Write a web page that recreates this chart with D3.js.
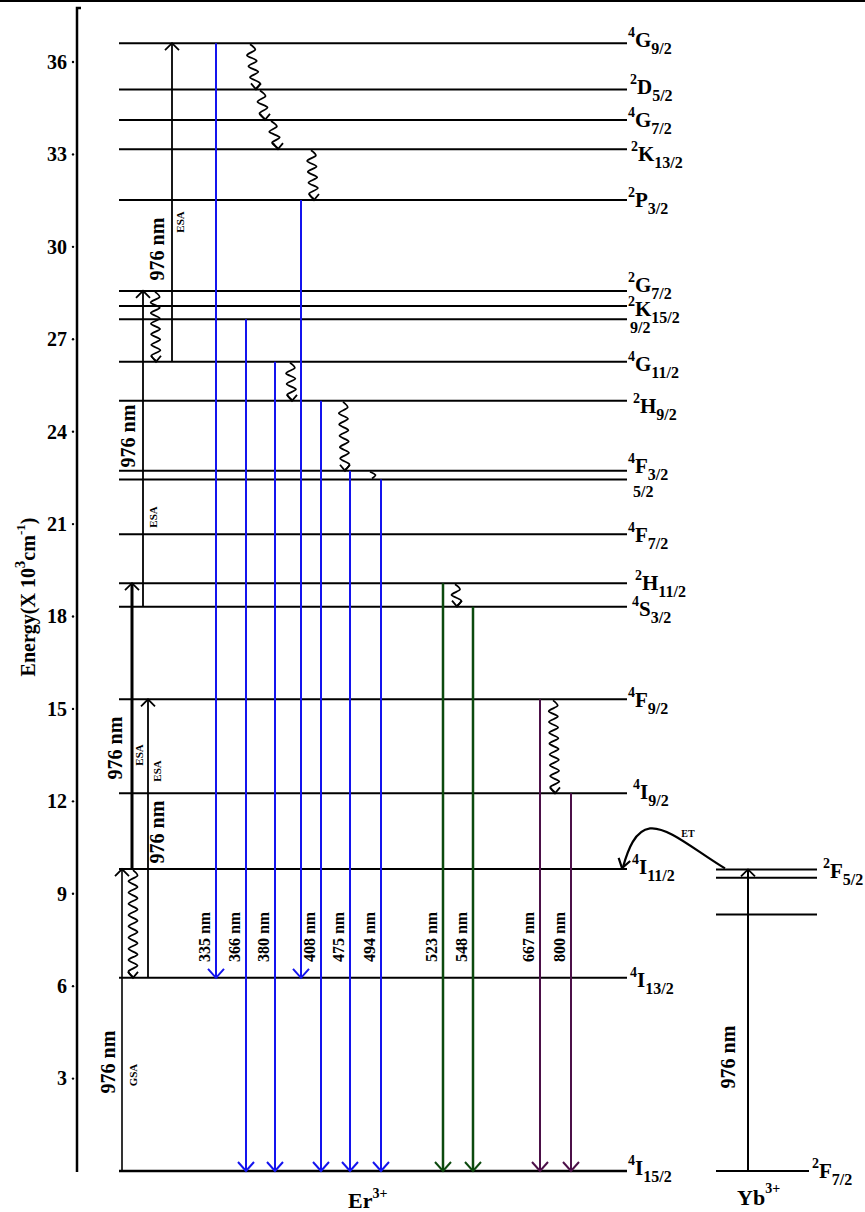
<!DOCTYPE html>
<html>
<head>
<meta charset="utf-8">
<script src="https://cdn.jsdelivr.net/npm/d3@7"></script>
<style>
  body { margin: 0; background: #fff; }
  svg text { font-family: "Liberation Serif", "Times New Roman", serif; }
</style>
</head>
<body>
<div id="chart"></div>
<script>
//////////////////// data ////////////////////////////////////

// energy axis ticks (x 10^3 cm-1)
const tickValues = [3, 6, 9, 12, 15, 18, 21, 24, 27, 30, 33, 36];

// Er3+ levels: term symbol parts + energy (x 10^3 cm-1)
const erLevels = [
  { id: "4G9/2",  sup: "4", term: "G", sub: "9/2",  energy: 36.61 },
  { id: "2D5/2",  sup: "2", term: "D", sub: "5/2",  energy: 35.11 },
  { id: "4G7/2",  sup: "4", term: "G", sub: "7/2",  energy: 34.12 },
  { id: "2K13/2", sup: "2", term: "K", sub: "13/2", energy: 33.17 },
  { id: "2P3/2",  sup: "2", term: "P", sub: "3/2",  energy: 31.52 },
  { id: "2G7/2",  sup: "2", term: "G", sub: "7/2",  energy: 28.57 },
  { id: "2K15/2", sup: "2", term: "K", sub: "15/2", energy: 28.08 },
  { id: "2G9/2",  sup: "",  term: "",  sub: "9/2",  energy: 27.65 },
  { id: "4G11/2", sup: "4", term: "G", sub: "11/2", energy: 26.27 },
  { id: "2H9/2",  sup: "2", term: "H", sub: "9/2",  energy: 25.00 },
  { id: "4F3/2",  sup: "4", term: "F", sub: "3/2",  energy: 22.73 },
  { id: "4F5/2",  sup: "",  term: "",  sub: "5/2",  energy: 22.45 },
  { id: "4F7/2",  sup: "4", term: "F", sub: "7/2",  energy: 20.67 },
  { id: "2H11/2", sup: "2", term: "H", sub: "11/2", energy: 19.08 },
  { id: "4S3/2",  sup: "4", term: "S", sub: "3/2",  energy: 18.32 },
  { id: "4F9/2",  sup: "4", term: "F", sub: "9/2",  energy: 15.31 },
  { id: "4I9/2",  sup: "4", term: "I", sub: "9/2",  energy: 12.26 },
  { id: "4I11/2", sup: "4", term: "I", sub: "11/2", energy: 9.80 },
  { id: "4I13/2", sup: "4", term: "I", sub: "13/2", energy: 6.27 },
  { id: "4I15/2", sup: "4", term: "I", sub: "15/2", energy: 0 }
];

// Yb3+ levels (Stark split 2F5/2)
const ybLevels = [
  { id: "2F5/2",  sup: "2", term: "F", sub: "5/2", energy: 9.79 },
  { id: "2F5/2b", sup: "",  term: "",  sub: "",    energy: 9.52 },
  { id: "2F5/2c", sup: "",  term: "",  sub: "",    energy: 8.33 },
  { id: "2F7/2",  sup: "2", term: "F", sub: "7/2", energy: 0 }
];

// 976 nm pump absorption steps
const pumpLabel = "976 nm";
const pumps = [
  { from: "4I15/2", to: "4I11/2", tag: "GSA" },
  { from: "4I13/2", to: "4F9/2",  tag: "ESA" },
  { from: "4I11/2", to: "2H11/2", tag: "ESA" },
  { from: "4S3/2",  to: "2G7/2",  tag: "ESA" },
  { from: "4G11/2", to: "4G9/2",  tag: "ESA" }
];

// non radiative relaxations (wavy arrows)
const relaxations = [
  { from: "4I11/2", to: "4I13/2" },
  { from: "2G7/2",  to: "4G11/2" },
  { from: "4G9/2",  to: "2D5/2" },
  { from: "2D5/2",  to: "4G7/2" },
  { from: "4G7/2",  to: "2K13/2" },
  { from: "2K13/2", to: "2P3/2" },
  { from: "4G11/2", to: "2H9/2" },
  { from: "2H9/2",  to: "4F3/2" },
  { from: "4F3/2",  to: "4F5/2" },
  { from: "2H11/2", to: "4S3/2" },
  { from: "4F9/2",  to: "4I9/2" }
];

// radiative emissions
const emissions = [
  { from: "4G9/2",  to: "4I13/2", nm: 335,  band: "blue" },
  { from: "2G9/2",  to: "4I15/2", nm: 366,  band: "blue" },
  { from: "4G11/2", to: "4I15/2", nm: 380,  band: "blue" },
  { from: "2P3/2",  to: "4I13/2", nm: null, band: "blue" },
  { from: "2H9/2",  to: "4I15/2", nm: 408,  band: "blue" },
  { from: "4F3/2",  to: "4I15/2", nm: 475,  band: "blue" },
  { from: "4F5/2",  to: "4I15/2", nm: 494,  band: "blue" },
  { from: "2H11/2", to: "4I15/2", nm: 523,  band: "green" },
  { from: "4S3/2",  to: "4I15/2", nm: 548,  band: "green" },
  { from: "4F9/2",  to: "4I15/2", nm: 667,  band: "red" },
  { from: "4I9/2",  to: "4I15/2", nm: 800,  band: "red" }
];

//////////////////// layout ////////////////////////////////////

const width = 865, height = 1212;
const erX = [119, 627], ybX = [716, 817];
const bandColor = { blue: "#1414ee", green: "#0c4a0e", red: "#4c1048" };
const bandWidth = { blue: 2, green: 2.5, red: 2 };

// label vertical shifts / x nudges for crowded level names
const labelShift = { "4G9/2": -3, "2D5/2": -2, "2K13/2": 5, "2G7/2": -6, "2K15/2": 3, "4G11/2": 2,
                     "2H9/2": 5, "4F3/2": -5, "4F5/2": 4, "4F7/2": 1, "2H11/2": 0, "4S3/2": 2,
                     "4F9/2": 1, "4I9/2": -1, "4I11/2": -2, "4I13/2": 2, "4I15/2": -3,
                     "2F5/2": 2, "2F7/2": 0 };
const labelNudge = { "2D5/2": 2, "2K13/2": 3, "2G9/2": 2, "2H9/2": 5, "4F5/2": 5, "2H11/2": 7,
                     "4S3/2": 4, "4I9/2": 5, "4I11/2": 4, "4I13/2": 2 };

const pumpX = [122, 148, 132, 143, 172];
const pumpStroke = [1.6, 1.8, 3, 1.8, 1.8];
const pumpText = [
  { nm: [108, 1062], tag: [133, 1075] },
  { nm: [157, 832],  tag: [157, 771] },
  { nm: [115, 748],  tag: [139, 755] },
  { nm: [128, 436],  tag: [153, 517] },
  { nm: [157, 249],  tag: [180, 222] }
];
const relaxX = [[133, 133], [155, 156], [250, 256], [260, 265], [271, 278], [311, 314],
                [290, 292], [343, 345], [370, 372], [455, 457], [553, 555]];
const emissionX = [216, 246, 275, 301, 321, 350, 381, 443, 473, 540, 571];
const emissionLabelY = 937;

//////////////////// drawing ////////////////////////////////////

let svg = d3.select("#chart")
            .append("svg")
            .attr("width", width)
            .attr("height", height);

let y = d3.scaleLinear().domain([0, 36]).range([1171, 62]);

let byId = {};
erLevels.concat(ybLevels).forEach(function(d) { byId[d.id] = d; });
function ly(id) { return y(byId[id].energy); }

// arrow head (open V) at tip, pointing along angle (radians)
function head(x, yy, ang, len, half) {
  let dx = Math.cos(ang), dy = Math.sin(ang);
  let bx = x - dx * len, by = yy - dy * len;
  return `M${bx - dy * half},${by + dx * half}L${x},${yy}L${bx + dy * half},${by - dx * half}`;
}

function vtext(x, yy, txt, size) {
  return svg.append("text")
            .attr("transform", `translate(${x},${yy}) rotate(-90)`)
            .attr("text-anchor", "middle")
            .attr("dominant-baseline", "central")
            .style("font-size", size + "px")
            .style("font-weight", "bold")
            .text(txt);
}

function termLabel(x, yy, d) {
  let s = labelShift[d.id] || 0;
  let t = svg.append("text")
             .attr("x", x + (labelNudge[d.id] || 0))
             .style("font-weight", "bold");
  if (d.sup) t.append("tspan").attr("y", yy - 3 + s).style("font-size", "14px").text(d.sup);
  if (d.term) t.append("tspan").attr("y", yy + 7 + s).style("font-size", "21px").text(d.term);
  if (d.sub) t.append("tspan").attr("y", yy + 14 + s).style("font-size", "16px").text(d.sub);
}

// top border
svg.append("line").attr("x1", 0).attr("x2", width).attr("y1", 1).attr("y2", 1)
   .attr("stroke", "#000").attr("stroke-width", 2);

// y axis
svg.append("path")
   .attr("d", "M81,8H77V1172")
   .attr("fill", "none").attr("stroke", "#000").attr("stroke-width", 2.5);
let axis = svg.append("g")
              .attr("transform", "translate(77,0)")
              .call(d3.axisLeft(y).tickValues(tickValues).tickSize(0).tickPadding(10));
axis.select(".domain").remove();
axis.selectAll("text")
    .attr("font-family", null)
    .style("font-size", "20px")
    .style("font-weight", "bold")
    .attr("fill", "#000");
svg.selectAll(".tickdot")
   .data(tickValues)
   .enter()
   .append("circle")
   .attr("cx", 73)
   .attr("cy", function(d) { return y(d); })
   .attr("r", 1.2)
   .attr("fill", "#000");

// axis title
let title = svg.append("text")
               .attr("transform", "translate(28,597) rotate(-90)")
               .attr("text-anchor", "middle")
               .attr("dominant-baseline", "central")
               .style("font-size", "20px")
               .style("font-weight", "bold");
title.append("tspan").text("Energy(X 10");
title.append("tspan").attr("dy", -8).style("font-size", "15px").text("3");
title.append("tspan").attr("dy", 8).text("cm");
title.append("tspan").attr("dy", -8).style("font-size", "13px").text("-1");
title.append("tspan").attr("dy", 8).text(")");

// Er levels
svg.selectAll(".er")
   .data(erLevels)
   .enter()
   .append("line")
   .attr("x1", erX[0]).attr("x2", erX[1])
   .attr("y1", function(d) { return y(d.energy); })
   .attr("y2", function(d) { return y(d.energy); })
   .attr("stroke", "#000")
   .attr("stroke-width", function(d) { return d.energy === 0 ? 2.6 : 2; });
erLevels.forEach(function(d) { termLabel(628, y(d.energy), d); });

// Yb levels
svg.selectAll(".yb")
   .data(ybLevels)
   .enter()
   .append("line")
   .attr("x1", ybX[0])
   .attr("x2", function(d) { return d.energy === 0 ? ybX[1] - 8 : ybX[1]; })
   .attr("y1", function(d) { return y(d.energy); })
   .attr("y2", function(d) { return y(d.energy); })
   .attr("stroke", "#000")
   .attr("stroke-width", 2);
termLabel(823, ly("2F5/2"), byId["2F5/2"]);
termLabel(812, ly("2F7/2"), byId["2F7/2"]);

// emissions
emissions.forEach(function(d, i) {
  let x = emissionX[i], y1 = ly(d.from), y2 = ly(d.to);
  let c = bandColor[d.band];
  svg.append("line").attr("x1", x).attr("x2", x).attr("y1", y1).attr("y2", y2 - 1)
     .attr("stroke", c).attr("stroke-width", bandWidth[d.band]);
  svg.append("path").attr("d", head(x, y2, Math.PI / 2, 9, 8))
     .attr("fill", "none").attr("stroke", c).attr("stroke-width", 2);
  if (d.nm) vtext(x - 12, emissionLabelY, d.nm + " nm", 16);
});

// pump arrows
pumps.forEach(function(d, i) {
  let x = pumpX[i], y1 = ly(d.from), y2 = ly(d.to);
  svg.append("line").attr("x1", x).attr("x2", x).attr("y1", y1).attr("y2", y2 + 1)
     .attr("stroke", "#000").attr("stroke-width", pumpStroke[i]);
  svg.append("path").attr("d", head(x, y2, -Math.PI / 2, 7, 7))
     .attr("fill", "none").attr("stroke", "#000").attr("stroke-width", 1.8);
  vtext(pumpText[i].nm[0], pumpText[i].nm[1], pumpLabel, 20);
  vtext(pumpText[i].tag[0], pumpText[i].tag[1], d.tag, 11);
});

// wavy relaxation arrows
let wave = d3.line().curve(d3.curveCardinal.tension(0.2));
relaxations.forEach(function(d, i) {
  let x1 = relaxX[i][0], x2 = relaxX[i][1];
  let y1 = ly(d.from) + 1, y2 = ly(d.to) - 1;
  let len = y2 - y1, n = Math.max(2, Math.round(len / 5.5));
  let pts = [];
  for (let k = 0; k <= n; k++) {
    let t = k / n;
    let a = (k === 0 || k === n) ? 0 : (k % 2 ? 4.5 : -4.5);
    pts.push([x1 + (x2 - x1) * t + a, y1 + len * t]);
  }
  svg.append("path").attr("d", wave(pts))
     .attr("fill", "none").attr("stroke", "#000").attr("stroke-width", 1.8);
  if (len > 14) {
    svg.append("path").attr("d", head(x2, y2 + 1, Math.PI / 2, 6, 5))
       .attr("fill", "none").attr("stroke", "#000").attr("stroke-width", 1.8);
  }
});

// Yb 976 nm absorption
let ybTop = ly("2F5/2");
svg.append("line").attr("x1", 748).attr("x2", 748).attr("y1", ly("2F7/2")).attr("y2", ybTop + 1)
   .attr("stroke", "#000").attr("stroke-width", 2);
svg.append("path").attr("d", head(748, ybTop, -Math.PI / 2, 7, 7))
   .attr("fill", "none").attr("stroke", "#000").attr("stroke-width", 1.8);
vtext(728, 1057, pumpLabel, 20);

// energy transfer Yb -> Er
let erTop = ly("4I11/2");
let et = d3.path();
et.moveTo(725, ybTop - 1);
et.bezierCurveTo(695, ybTop - 19, 668, ybTop - 43, 650, ybTop - 41);
et.bezierCurveTo(635, ybTop - 39, 628, ybTop - 20, 623, erTop - 2);
svg.append("path").attr("d", et.toString())
   .attr("fill", "none").attr("stroke", "#000").attr("stroke-width", 2.2);
svg.append("path").attr("d", head(622, erTop - 1, Math.atan2(18, -5), 9, 6))
   .attr("fill", "none").attr("stroke", "#000").attr("stroke-width", 2.2);
svg.append("text").attr("x", 688).attr("y", 837)
   .attr("text-anchor", "middle")
   .style("font-size", "10px").style("font-weight", "bold")
   .text("ET");

// ion labels
let er = svg.append("text").attr("x", 348).attr("y", 1208)
            .style("font-size", "22px").style("font-weight", "bold");
er.append("tspan").text("Er");
er.append("tspan").attr("dy", -10).style("font-size", "14px").text("3+");
let yb = svg.append("text").attr("x", 737).attr("y", 1205)
            .style("font-size", "22px").style("font-weight", "bold");
yb.append("tspan").text("Yb");
yb.append("tspan").attr("dy", -12).style("font-size", "14px").text("3+");
</script>
</body>
</html>
